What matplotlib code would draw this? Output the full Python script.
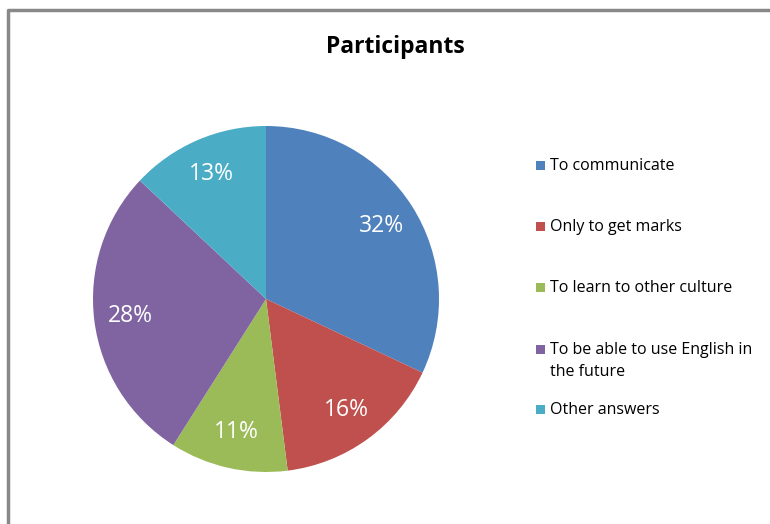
import matplotlib
matplotlib.use("Agg")
import matplotlib.pyplot as plt
from matplotlib.patches import Rectangle
from matplotlib.lines import Line2D

title = "Participants"
categories = [
    "To communicate",
    "Only to get marks",
    "To learn to other culture",
    "To be able to use English in\nthe future",
    "Other answers",
]
shares = [32, 16, 11, 28, 13]
colors = ["#4F81BD", "#C0504D", "#9BBB59", "#8064A2", "#4BACC6"]

W, H = 770, 524
fig = plt.figure(figsize=(W / 100, H / 100), dpi=100)
fig.patch.set_facecolor("white")

# chart frame (top and left edges visible)
frame = Line2D([8 / W, 8 / W, 1.0], [0.0, 1 - 10 / H, 1 - 10 / H],
               transform=fig.transFigure, color="#888888", lw=2.5)
fig.add_artist(frame)

# pie axes: centre (266, 299) px, radius ~173 px
cx, cy, r = 266, 299, 173
ax = fig.add_axes([(cx - r) / W, (H - cy - r) / H, 2 * r / W, 2 * r / H])
wedges, texts, autotexts = ax.pie(
    shares, colors=colors, startangle=90, counterclock=False,
    autopct="%d%%", pctdistance=0.79, radius=1.0,
    wedgeprops=dict(linewidth=0),
    textprops=dict(color="white", fontsize=16.5, family="Open Sans"),
)
ax.set_xlim(-1, 1)
ax.set_ylim(-1, 1)
ax.set_aspect("equal")
ax.axis("off")

fig.text(395 / W, 1 - 47 / H, title, ha="center", va="center",
         fontsize=16.5, fontweight="bold", family="Open Sans")

# legend entries: swatch beside the first line of each label
legend_y = [165, 226, 287, 349, 409]
for lab, col, y in zip(categories, colors, legend_y):
    fig.add_artist(Rectangle((536 / W, 1 - (y + 4.5) / H), 9 / W, 9 / H,
                             transform=fig.transFigure, facecolor=col,
                             edgecolor="none"))
    fig.text(550 / W, 1 - (y - 7) / H, lab, ha="left", va="top",
             fontsize=11.5, family="Open Sans", linespacing=1.5)

fig.savefig("out.png", dpi=100, facecolor="white")
